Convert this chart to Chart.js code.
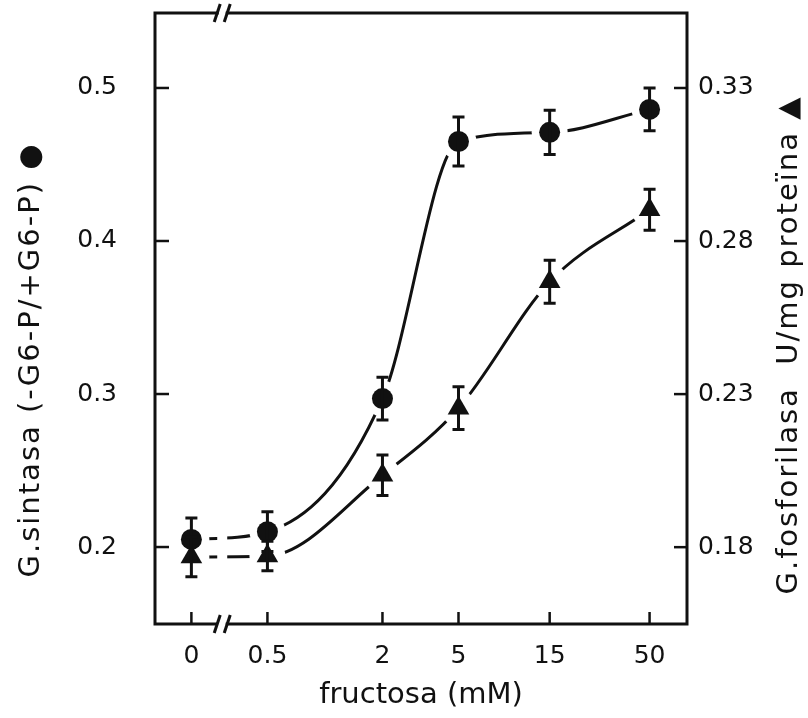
<!DOCTYPE html>
<html><head><meta charset="utf-8">
<script src="https://cdn.jsdelivr.net/npm/chart.js@4.4.1/dist/chart.umd.min.js"></script>
<style>html,body{margin:0;padding:0;background:#fff}canvas{display:block}</style>
</head><body>
<canvas id="c" width="808" height="718"></canvas>
<script>
// ---- data ----
const concentrations = [0, 0.5, 2, 5, 15, 50];           // fructosa (mM)
const xTickLabels = ['0', '0.5', '2', '5', '15', '50'];
const gsintasa = [0.205, 0.210, 0.297, 0.465, 0.471, 0.486];      // left axis (circles)
const gsintasaErr = [0.014, 0.013, 0.014, 0.016, 0.0145, 0.014];
const fosforilasa = [0.1768, 0.1771, 0.2035, 0.2254, 0.2667, 0.2902]; // right axis (triangles)
const fosforilasaErr = [0.0065, 0.0048, 0.0066, 0.007, 0.007, 0.0067];
const leftTicks = [0.2, 0.3, 0.4, 0.5];
const rightTicks = [0.18, 0.23, 0.28, 0.33];
const xTitle = 'fructosa (mM)';
const leftTitle = 'G.sintasa (-G6-P/+G6-P) ●';
const rightTitle = 'G.fosforilasa  U/mg proteïna ▲';
const zeroPlotAt = 0.2;   // where "0" sits, left of the axis break (log axis)
const breakAt = 0.29;     // axis break between 0 and 0.5
const xRange = [0.129, 78.5];
const leftRange = [0.1497, 0.549];
const rightRange = [0.1549, 0.3545];

const INK = '#111';
const xValues = concentrations.map(c => c === 0 ? zeroPlotAt : c);
const pts = vals => xValues.map((x, i) => ({x, y: vals[i]}));
const tickFont = {family: 'DejaVu Sans', size: 25};
const titleFont = {family: 'DejaVu Sans', size: 29};

const deco = {
  id: 'deco',
  beforeDatasetsDraw(chart) {
    const {ctx, chartArea: {left: L, right: R, top: T, bottom: B}, scales: {x, y, y1}} = chart;
    const bx = x.getPixelForValue(breakAt);
    const line = (a, b, c, d) => { ctx.beginPath(); ctx.moveTo(a, b); ctx.lineTo(c, d); ctx.stroke(); };
    ctx.save();
    ctx.strokeStyle = INK; ctx.lineWidth = 3; ctx.lineCap = 'square';
    ctx.beginPath();
    ctx.moveTo(bx - 5, T); ctx.lineTo(L, T); ctx.lineTo(L, B); ctx.lineTo(bx - 6, B);
    ctx.moveTo(bx + 5, T); ctx.lineTo(R, T); ctx.lineTo(R, B); ctx.lineTo(bx + 5, B);
    ctx.stroke();
    ctx.lineCap = 'butt';
    [T, B].forEach(yy => [-5, 5].forEach(dx => line(bx + dx - 3, yy + 9, bx + dx + 3, yy - 9)));
    ctx.lineWidth = 2.5;
    leftTicks.forEach(v => { const p = y.getPixelForValue(v); line(L, p, L + 14, p); });
    rightTicks.forEach(v => { const p = y1.getPixelForValue(v); line(R - 13, p, R, p); });
    xValues.forEach(v => { const p = x.getPixelForValue(v); line(p, B, p, B - 12); });
    ctx.restore();
  },
  afterDatasetsDraw(chart) {
    const {ctx, chartArea: {top: T, bottom: B}, scales: {x, y, y1}} = chart;
    const bx = x.getPixelForValue(breakAt);
    ctx.save();
    ctx.fillStyle = '#fff';
    ctx.fillRect(bx - 5, T + 12, 10, B - T - 24);
    ctx.strokeStyle = INK; ctx.lineWidth = 3;
    const bars = (vals, errs, sc) => vals.forEach((v, i) => {
      const px = x.getPixelForValue(xValues[i]);
      const t = sc.getPixelForValue(v + errs[i]), b = sc.getPixelForValue(v - errs[i]);
      ctx.beginPath();
      ctx.moveTo(px, t); ctx.lineTo(px, b);
      ctx.moveTo(px - 6, t); ctx.lineTo(px + 6, t);
      ctx.moveTo(px - 6, b); ctx.lineTo(px + 6, b);
      ctx.stroke();
    });
    bars(gsintasa, gsintasaErr, y);
    bars(fosforilasa, fosforilasaErr, y1);
    ctx.restore();
  },
  afterDraw(chart) {
    const {ctx} = chart;
    const draw = (txt, cx, cy) => {
      ctx.save();
      ctx.font = titleFont.size + 'px "' + titleFont.family + '"';
      ctx.fillStyle = INK; ctx.textAlign = 'center'; ctx.textBaseline = 'middle';
      try { ctx.letterSpacing = '2px'; } catch (e) {}
      ctx.translate(cx, cy); ctx.rotate(-Math.PI / 2);
      ctx.fillText(txt, 0, 0);
      ctx.restore();
    };
    draw(leftTitle, 31, 360);
    draw(rightTitle, 789, 345);
  }
};

new Chart(document.getElementById('c'), {
  type: 'line',
  data: {
    datasets: [
      {label: 'G.sintasa', data: pts(gsintasa), yAxisID: 'y', showLine: false,
       pointStyle: 'circle', pointRadius: 10.5, pointBackgroundColor: INK, pointBorderWidth: 0, order: 0},
      {label: 'G.fosforilasa', data: pts(fosforilasa), yAxisID: 'y1', showLine: false,
       pointStyle: 'triangle', pointRadius: 12.5, pointBackgroundColor: INK, pointBorderWidth: 0, order: 0},
      {label: 'G.sintasa curve', data: pts(gsintasa), yAxisID: 'y', showLine: true,
       borderColor: INK, borderWidth: 3, cubicInterpolationMode: 'monotone', fill: false,
       pointRadius: 18, pointBackgroundColor: '#fff', pointBorderWidth: 0, order: 1},
      {label: 'G.fosforilasa curve', data: pts(fosforilasa), yAxisID: 'y1', showLine: true,
       borderColor: INK, borderWidth: 3, cubicInterpolationMode: 'monotone', fill: false,
       pointRadius: 18, pointBackgroundColor: '#fff', pointBorderWidth: 0, order: 1}
    ]
  },
  options: {
    responsive: false, animation: false,
    layout: {autoPadding: false, padding: {top: 13, left: 0, right: 0, bottom: 0}},
    plugins: {legend: {display: false}, tooltip: {enabled: false}},
    events: [],
    scales: {
      x: {
        type: 'logarithmic', min: xRange[0], max: xRange[1],
        afterBuildTicks: s => { s.ticks = xValues.map(v => ({value: v})); },
        afterFit: s => { s.height = 94; },
        ticks: {callback: (v, i) => xTickLabels[i], font: tickFont, color: INK, padding: 17,
                maxRotation: 0, autoSkip: false},
        grid: {display: false, drawTicks: false}, border: {display: false},
        title: {display: true, text: xTitle, font: titleFont, color: INK, padding: {top: 0, bottom: 5}}
      },
      y: {
        type: 'linear', position: 'left', min: leftRange[0], max: leftRange[1],
        afterBuildTicks: s => { s.ticks = leftTicks.map(v => ({value: v})); },
        afterFit: s => { s.width = 155; s.paddingTop = 0; s.paddingBottom = 0; },
        ticks: {callback: v => v.toFixed(1), font: tickFont, color: INK, padding: 38},
        grid: {display: false, drawTicks: false}, border: {display: false}
      },
      y1: {
        type: 'linear', position: 'right', min: rightRange[0], max: rightRange[1],
        afterBuildTicks: s => { s.ticks = rightTicks.map(v => ({value: v})); },
        afterFit: s => { s.width = 121; s.paddingTop = 0; s.paddingBottom = 0; },
        ticks: {callback: v => v.toFixed(2), font: tickFont, color: INK, padding: 11},
        grid: {display: false, drawTicks: false}, border: {display: false}
      }
    }
  },
  plugins: [deco]
});
</script>
</body></html>
